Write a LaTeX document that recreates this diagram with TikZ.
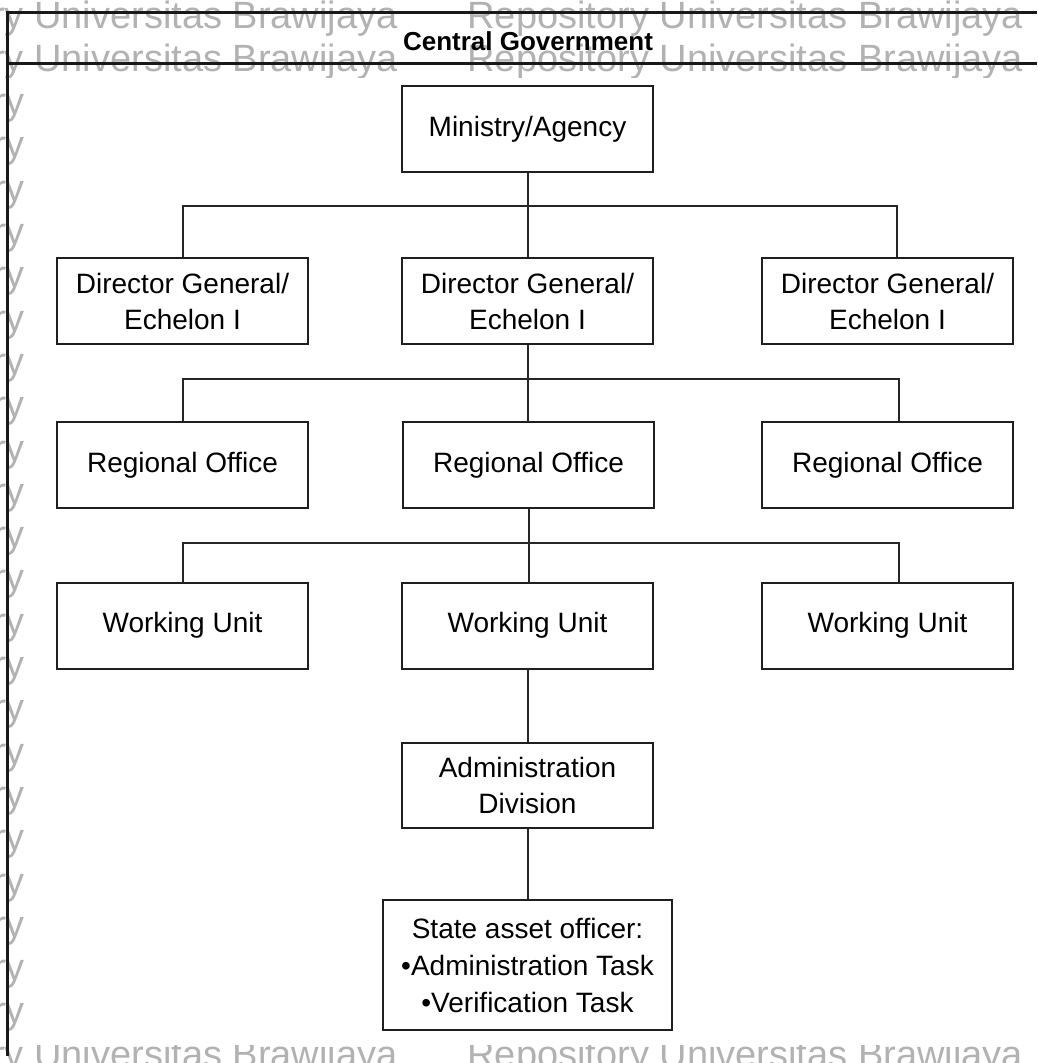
\documentclass[tikz,border=0pt]{standalone}
\usepackage{fontspec}
\setmainfont{Liberation Sans}
\begin{document}
\begin{tikzpicture}[x=1pt,y=-1pt,
  box/.style={draw=black!88, line width=2pt, minimum width=251pt, minimum height=86pt,
    inner sep=0pt, align=center, font=\fontsize{28}{36}\selectfont},
  link/.style={draw=black!85, line width=2pt},
  frame/.style={draw=black!90, line width=3pt},
  wm/.style={text=black!30, font=\fontsize{38}{38}\selectfont, inner sep=0pt, anchor=base west},
  ttl/.style={font=\fontsize{26}{30}\selectfont\bfseries, inner sep=0pt}]
\useasboundingbox (0,0) rectangle (1037,1063);
% watermark of the scanned page (visible only round the figure)
\begin{scope}
  \clip (0,0) rectangle (1037,77);
  \foreach \k in {0,1} {
    \node[wm] (wmt\k) at (-158,{28+43.3*\k}) {Repository Universitas Brawijaya\hspace{70pt}Repository Universitas Brawijaya};
  }
\end{scope}
\begin{scope}
  \clip (0,1045) rectangle (1037,1063);
  \node[wm] (wmb) at (-158,{28+43.3*24}) {Repository Universitas Brawijaya\hspace{70pt}Repository Universitas Brawijaya};
\end{scope}
\begin{scope}
  \clip (0,77) rectangle (26,1045);
  \foreach \k in {2,...,23} {
    \node[wm, anchor=base east] (wml\k) at (25,{28+43.3*\k}) {ry};
  }
\end{scope}
% frame
\coordinate (ftl) at (7,12);
\coordinate (ftr) at (1037,12);
\coordinate (fbl) at (7,1056);
\coordinate (hl) at (7,63.5);
\coordinate (hr) at (1037,63.5);
\draw[frame] (fbl) -- (ftl) -- (ftr);
\draw[frame] (hl) -- (hr);
\node[ttl, anchor=base] (title) at (528,50) {Central Government};
% boxes
\node[box] (min) at (527.5,129) {Ministry/Agency};
\node[box] (dg1) at (182.5,301) {Director General/\\Echelon I};
\node[box] (dg2) at (527.5,301) {Director General/\\Echelon I};
\node[box] (dg3) at (887.5,301) {Director General/\\Echelon I};
\node[box] (ro1) at (182.5,465) {Regional Office};
\node[box] (ro2) at (528.5,465) {Regional Office};
\node[box] (ro3) at (887.5,465) {Regional Office};
\node[box] (wu1) at (182.5,625.5) {Working Unit};
\node[box] (wu2) at (527.5,625.5) {Working Unit};
\node[box] (wu3) at (887.5,625.5) {Working Unit};
\node[box, minimum height=85pt] (adm) at (527.5,785.5) {Administration\\Division};
\node[box, minimum width=289pt, minimum height=130pt, font=\fontsize{28}{37}\selectfont] (sao) at (527.5,965)
  {State asset officer:\\•Administration Task\\•Verification Task};
% connectors
\coordinate (b1r) at (897,206);
\coordinate (b2r) at (899,379);
\coordinate (b3r) at (899,543);
\draw[link] (min.south) -- (dg2.north);
\draw[link] (dg1.north) |- (b1r) -- (b1r |- dg3.north);
\draw[link] (dg2.south) -- (dg2.south |- ro2.north);
\draw[link] (ro1.north) |- (b2r) -- (b2r |- ro3.north);
\draw[link] (ro2.south) -- (ro2.south |- wu2.north);
\draw[link] (wu1.north) |- (b3r) -- (b3r |- wu3.north);
\draw[link] (wu2.south) -- (adm.north);
\draw[link] (adm.south) -- (sao.north);
\end{tikzpicture}
\end{document}
